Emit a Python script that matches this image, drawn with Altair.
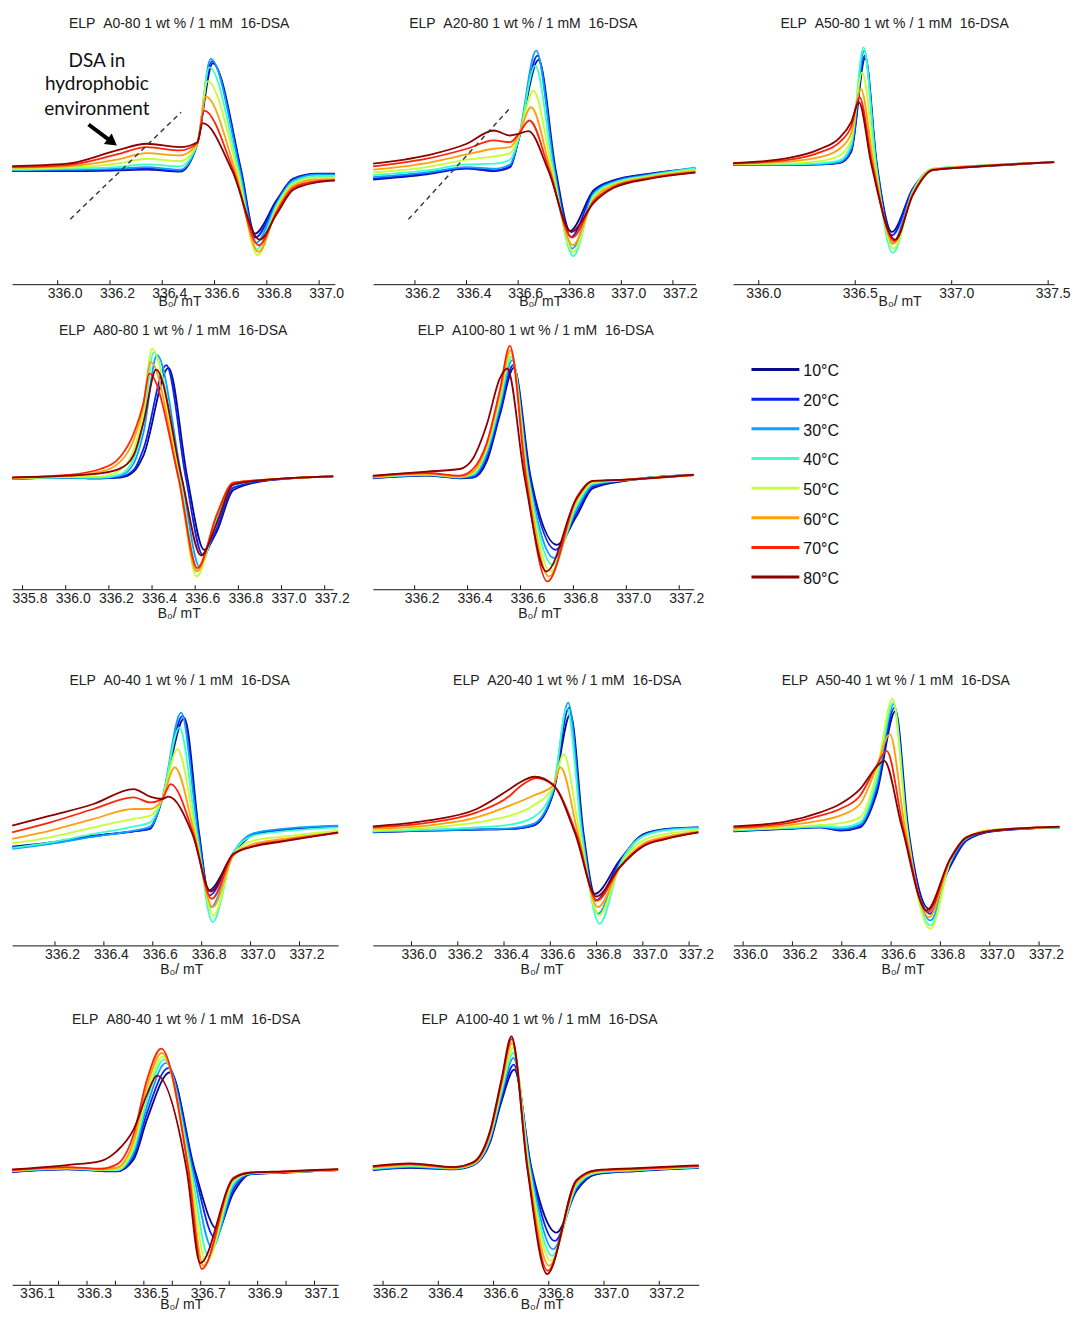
import altair as alt
import pandas as pd

FONT = "Liberation Sans"

TEMPS = [10, 20, 30, 40, 50, 60, 70, 80]
TEMP_LABELS = ["10°C", "20°C", "30°C", "40°C", "50°C", "60°C", "70°C", "80°C"]
COLORS = ["#0a0a8c", "#0a22f5", "#0aa0ff", "#3cffc8", "#c3ff32", "#ffa00a", "#ff230a", "#8c0000"]

# ---- EPR spectra: (B0 in mT, signal in a.u.) key points ----
A0_80 = {
    10: [(335.826,113.3),(336.036,113.3),(336.226,114.0),(336.341,114.7),(336.468,112.7),(336.534,140.7),(336.593,221.3),(336.702,114.0),(336.754,50.7),(336.837,84.0),(336.901,105.7),(336.990,110.7),(337.060,110.7)],
    20: [(335.826,113.7),(336.036,114.0),(336.226,114.7),(336.341,115.7),(336.468,113.3),(336.534,140.7),(336.589,223.3),(336.700,114.0),(336.756,46.7),(336.837,82.3),(336.901,105.0),(336.990,110.3),(337.060,110.3)],
    30: [(335.826,114.0),(336.036,114.7),(336.226,115.7),(336.341,117.3),(336.468,114.7),(336.534,140.7),(336.585,225.7),(336.697,114.0),(336.758,41.3),(336.837,80.7),(336.901,104.0),(336.990,109.7),(337.060,109.7)],
    40: [(335.826,114.7),(336.036,115.7),(336.226,117.3),(336.341,120.0),(336.468,118.0),(336.534,140.7),(336.580,217.3),(336.692,114.0),(336.761,34.7),(336.837,79.0),(336.901,102.3),(336.990,108.3),(337.060,108.0)],
    50: [(335.826,115.7),(336.036,116.7),(336.226,120.7),(336.341,125.7),(336.468,123.3),(336.534,140.7),(336.573,203.3),(336.687,114.0),(336.765,29.0),(336.837,76.7),(336.901,100.7),(336.990,106.7),(337.060,106.7)],
    60: [(335.826,116.7),(336.036,118.0),(336.226,124.7),(336.341,131.3),(336.468,129.0),(336.534,140.7),(336.566,188.0),(336.679,114.0),(336.768,32.3),(336.837,74.0),(336.901,98.7),(336.990,105.0),(337.060,105.3)],
    70: [(335.826,117.3),(336.036,119.3),(336.226,130.0),(336.341,137.3),(336.468,134.0),(336.534,141.3),(336.560,174.0),(336.672,114.0),(336.770,39.0),(336.837,72.0),(336.901,96.7),(336.990,103.3),(337.060,104.3)],
    80: [(335.826,118.3),(336.036,120.7),(336.226,134.0),(336.341,140.7),(336.468,137.3),(336.534,142.3),(336.555,161.3),(336.667,114.0),(336.773,44.7),(336.837,70.0),(336.901,94.7),(336.990,102.0),(337.060,103.7)],
}

A20_80 = {
    10: [(336.038,104.7),(336.246,110.0),(336.401,115.7),(336.505,113.3),(336.569,117.3),(336.601,144.0),(336.679,224.7),(336.746,114.0),(336.801,53.3),(336.892,94.0),(336.969,104.0),(337.111,110.7),(337.287,115.7)],
    20: [(336.038,105.7),(336.246,110.7),(336.401,116.3),(336.505,114.0),(336.569,118.0),(336.601,144.0),(336.675,229.0),(336.743,114.0),(336.805,47.3),(336.892,92.3),(336.969,103.3),(337.111,110.3),(337.287,115.7)],
    30: [(336.038,107.3),(336.246,112.0),(336.401,117.3),(336.505,115.7),(336.569,120.0),(336.601,144.7),(336.670,234.0),(336.741,114.0),(336.810,35.7),(336.892,90.7),(336.969,102.3),(337.111,109.7),(337.287,116.7)],
    40: [(336.038,109.3),(336.246,114.0),(336.401,120.0),(336.505,120.7),(336.569,124.7),(336.601,145.0),(336.666,219.0),(336.737,114.0),(336.814,28.0),(336.892,89.0),(336.969,101.3),(337.111,109.0),(337.287,116.0)],
    50: [(336.038,112.0),(336.246,117.3),(336.401,124.7),(336.505,128.0),(336.569,131.3),(336.601,147.3),(336.659,194.0),(336.732,114.0),(336.814,32.3),(336.892,86.7),(336.969,100.0),(337.111,108.0),(337.287,114.7)],
    60: [(336.038,114.7),(336.246,121.3),(336.401,130.0),(336.505,135.7),(336.569,137.3),(336.601,149.0),(336.650,177.3),(336.726,114.0),(336.812,39.0),(336.892,84.7),(336.969,98.7),(337.111,107.3),(337.287,113.3)],
    70: [(336.038,118.0),(336.246,125.7),(336.401,135.7),(336.505,144.0),(336.569,142.3),(336.601,150.0),(336.644,164.0),(336.721,114.0),(336.809,46.7),(336.892,83.0),(336.969,97.3),(337.111,106.3),(337.287,112.3)],
    80: [(336.038,120.7),(336.246,129.0),(336.401,140.7),(336.505,154.0),(336.569,149.0),(336.601,150.7),(336.640,153.3),(336.717,114.0),(336.806,52.3),(336.892,81.3),(336.969,96.3),(337.111,105.7),(337.287,111.7)],
}

A50_80 = {
    10: [(335.867,119.3),(336.143,119.3),(336.316,120.0),(336.419,121.3),(336.479,132.3),(336.552,226.7),(336.612,120.7),(336.690,52.3),(336.798,95.7),(336.902,114.7),(337.091,117.3),(337.531,122.3)],
    20: [(335.867,119.3),(336.143,119.3),(336.316,120.0),(336.419,121.7),(336.479,134.0),(336.550,229.0),(336.610,120.7),(336.691,49.0),(336.798,94.7),(336.902,115.0),(337.091,117.7),(337.531,122.3)],
    30: [(335.867,119.7),(336.143,119.7),(336.316,120.3),(336.419,122.3),(336.479,135.7),(336.547,234.0),(336.609,120.7),(336.693,40.7),(336.798,93.7),(336.902,115.3),(337.091,118.0),(337.531,122.3)],
    40: [(335.867,120.0),(336.143,120.0),(336.316,121.0),(336.419,124.0),(336.479,140.0),(336.543,237.3),(336.607,120.7),(336.695,31.3),(336.798,92.7),(336.902,115.7),(337.091,118.3),(337.531,122.3)],
    50: [(335.867,120.3),(336.143,121.0),(336.316,123.3),(336.419,129.0),(336.479,144.0),(336.536,212.3),(336.602,120.7),(336.698,35.7),(336.798,91.7),(336.902,115.3),(337.091,118.0),(337.531,122.3)],
    60: [(335.867,120.7),(336.143,122.7),(336.316,127.3),(336.419,135.7),(336.479,150.7),(336.529,195.7),(336.595,120.7),(336.700,40.7),(336.798,90.7),(336.902,115.0),(337.091,117.7),(337.531,122.3)],
    70: [(335.867,121.0),(336.143,124.3),(336.316,132.0),(336.419,142.3),(336.479,158.0),(336.522,187.3),(336.588,120.7),(336.703,43.3),(336.798,89.7),(336.902,114.7),(337.091,117.7),(337.531,122.3)],
    80: [(335.867,121.3),(336.143,126.0),(336.316,135.3),(336.419,146.7),(336.479,162.3),(336.519,182.3),(336.583,120.7),(336.707,44.7),(336.798,89.0),(336.902,114.3),(337.091,117.3),(337.531,122.3)],
}

A80_80 = {
    10: [(335.752,108.7),(336.006,110.0),(336.161,109.3),(336.253,110.0),(336.315,116.0),(336.361,132.7),(336.476,220.0),(336.564,109.3),(336.641,37.7),(336.700,56.0),(336.777,97.7),(336.931,107.0),(337.239,111.3)],
    20: [(335.752,108.7),(336.006,110.0),(336.161,109.3),(336.253,110.7),(336.315,117.7),(336.361,139.3),(336.466,222.7),(336.557,109.3),(336.635,32.7),(336.700,59.3),(336.777,100.0),(336.931,107.3),(337.239,111.3)],
    30: [(335.752,109.0),(336.006,110.0),(336.161,109.7),(336.253,112.0),(336.315,124.3),(336.361,156.0),(336.423,232.7),(336.538,109.3),(336.620,21.0),(336.700,67.7),(336.777,102.7),(336.931,107.7),(337.239,111.3)],
    40: [(335.752,109.0),(336.006,110.3),(336.161,110.0),(336.253,113.3),(336.315,129.3),(336.361,166.0),(336.407,235.3),(336.530,109.3),(336.612,16.7),(336.700,71.0),(336.777,104.0),(336.931,108.0),(337.239,111.3)],
    50: [(335.752,109.3),(336.006,110.7),(336.161,111.3),(336.253,117.7),(336.315,137.7),(336.361,177.7),(336.399,239.3),(336.526,109.3),(336.607,11.0),(336.700,72.7),(336.777,104.7),(336.931,108.0),(337.239,111.3)],
    60: [(335.752,109.7),(336.006,111.7),(336.161,116.0),(336.253,126.0),(336.315,147.7),(336.361,182.7),(336.392,226.0),(336.523,109.3),(336.607,16.0),(336.700,73.3),(336.777,105.0),(336.931,108.0),(337.239,111.3)],
    70: [(335.752,110.0),(336.006,112.7),(336.161,118.7),(336.253,131.0),(336.315,154.3),(336.361,186.0),(336.387,214.3),(336.523,109.3),(336.610,19.3),(336.700,72.7),(336.777,105.0),(336.931,108.0),(337.239,111.3)],
    80: [(335.752,110.3),(336.006,112.0),(336.161,114.3),(336.253,119.3),(336.315,132.7),(336.361,166.0),(336.419,218.3),(336.538,109.3),(336.627,32.0),(336.700,64.3),(336.777,103.3),(336.931,107.7),(337.239,111.3)],
}

A100_80 = {
    10: [(336.042,112.7),(336.245,115.3),(336.371,112.7),(336.421,113.3),(336.472,129.3),(336.522,176.0),(336.575,223.3),(336.638,114.3),(336.738,46.0),(336.811,74.3),(336.874,102.7),(337.000,110.3),(337.255,116.0)],
    20: [(336.042,113.0),(336.245,115.7),(336.371,113.0),(336.421,114.0),(336.472,132.7),(336.522,179.3),(336.572,226.0),(336.635,114.3),(336.733,41.0),(336.811,77.7),(336.874,104.3),(337.000,110.7),(337.255,116.0)],
    30: [(336.042,113.3),(336.245,116.0),(336.371,113.3),(336.421,115.3),(336.472,136.7),(336.522,184.3),(336.569,231.0),(336.631,114.3),(336.727,32.7),(336.811,81.0),(336.874,106.0),(337.000,111.0),(337.255,116.0)],
    40: [(336.042,113.7),(336.245,116.3),(336.371,113.7),(336.421,116.7),(336.472,140.0),(336.522,188.7),(336.566,234.3),(336.629,114.3),(336.721,26.0),(336.811,84.3),(336.874,107.3),(337.000,111.0),(337.255,116.0)],
    50: [(336.042,114.0),(336.245,116.7),(336.371,114.0),(336.421,117.7),(336.472,142.7),(336.522,192.7),(336.564,237.7),(336.626,114.3),(336.714,19.3),(336.811,87.7),(336.874,108.3),(337.000,111.3),(337.255,116.0)],
    60: [(336.042,114.3),(336.245,117.3),(336.371,114.3),(336.421,119.3),(336.472,145.3),(336.522,196.7),(336.562,241.0),(336.624,114.3),(336.708,14.3),(336.811,90.0),(336.874,109.3),(337.000,111.3),(337.255,116.0)],
    70: [(336.042,114.7),(336.245,118.0),(336.371,115.3),(336.421,122.0),(336.472,147.7),(336.522,201.0),(336.560,245.3),(336.620,114.3),(336.702,9.3),(336.811,92.7),(336.874,110.0),(337.000,111.3),(337.255,116.0)],
    80: [(336.042,115.3),(336.245,119.3),(336.371,122.0),(336.421,132.7),(336.472,166.0),(336.522,212.7),(336.550,222.7),(336.615,114.3),(336.698,19.3),(336.811,92.0),(336.874,110.0),(337.000,111.3),(337.255,116.3)],
}

A0_40 = {
    10: [(336.025,99.0),(336.181,103.3),(336.358,110.0),(336.521,114.3),(336.589,116.7),(336.637,145.0),(336.729,227.7),(336.790,111.7),(336.827,55.0),(336.929,91.7),(337.011,111.0),(337.133,115.7),(337.358,119.3)],
    20: [(336.025,97.7),(336.181,102.3),(336.358,109.3),(336.521,114.3),(336.589,117.3),(336.637,145.0),(336.722,230.0),(336.788,111.7),(336.831,50.0),(336.929,92.3),(337.011,111.7),(337.133,116.0),(337.358,119.7)],
    30: [(336.025,96.7),(336.181,101.7),(336.358,109.0),(336.521,115.0),(336.589,119.0),(336.637,145.7),(336.716,233.3),(336.785,111.7),(336.838,38.3),(336.929,93.0),(337.011,112.3),(337.133,116.7),(337.358,120.0)],
    40: [(336.025,97.7),(336.181,103.3),(336.358,111.7),(336.521,119.0),(336.589,123.3),(336.637,145.7),(336.709,218.3),(336.780,111.7),(336.845,23.3),(336.929,92.3),(337.011,110.0),(337.133,114.3),(337.358,118.3)],
    50: [(336.025,102.3),(336.181,108.3),(336.358,118.3),(336.521,126.7),(336.589,130.0),(336.637,145.7),(336.701,196.7),(336.776,111.7),(336.848,30.0),(336.929,91.0),(337.011,105.0),(337.133,109.0),(337.358,115.0)],
    60: [(336.025,106.7),(336.181,115.0),(336.358,126.7),(336.521,136.7),(336.589,136.7),(336.637,145.7),(336.690,178.3),(336.771,111.7),(336.845,38.3),(336.929,90.0),(337.011,101.7),(337.133,106.7),(337.358,113.3)],
    70: [(336.025,113.3),(336.181,123.3),(336.358,136.7),(336.521,148.3),(336.589,143.3),(336.637,146.3),(336.673,161.7),(336.766,111.7),(336.841,46.7),(336.929,90.7),(337.011,99.7),(337.133,105.0),(337.358,112.7)],
    80: [(336.025,120.0),(336.181,130.0),(336.358,141.7),(336.521,156.7),(336.589,149.0),(336.637,146.7),(336.664,149.0),(336.762,111.7),(336.837,54.0),(336.929,91.7),(337.011,99.0),(337.133,104.3),(337.358,113.3)],
}

A20_40 = {
    10: [(335.833,113.3),(336.066,115.0),(336.282,116.0),(336.425,116.7),(336.526,120.0),(336.612,151.7),(336.687,231.7),(336.744,111.7),(336.792,51.7),(336.899,85.0),(336.999,111.0),(337.101,116.7),(337.240,118.3)],
    20: [(335.833,113.7),(336.066,115.0),(336.282,116.0),(336.425,116.7),(336.526,120.0),(336.612,153.3),(336.681,238.3),(336.741,111.7),(336.796,45.0),(336.899,83.3),(336.999,110.3),(337.101,116.3),(337.240,118.0)],
    30: [(335.833,114.0),(336.066,115.3),(336.282,116.3),(336.425,117.3),(336.526,121.7),(336.612,155.0),(336.677,243.3),(336.739,111.7),(336.806,31.7),(336.899,81.7),(336.999,109.7),(337.101,116.0),(337.240,117.7)],
    40: [(335.833,114.3),(336.066,116.0),(336.282,118.3),(336.425,121.0),(336.526,128.3),(336.612,156.7),(336.672,238.3),(336.736,111.7),(336.813,21.7),(336.899,80.0),(336.999,109.0),(337.101,115.3),(337.240,117.3)],
    50: [(335.833,115.0),(336.066,117.7),(336.282,123.3),(336.425,130.0),(336.526,140.0),(336.612,159.0),(336.658,191.7),(336.727,111.7),(336.810,30.0),(336.899,78.3),(336.999,105.0),(337.101,111.7),(337.240,115.0)],
    60: [(335.833,116.7),(336.066,120.0),(336.282,128.3),(336.425,140.0),(336.526,150.0),(336.612,160.0),(336.644,178.3),(336.720,111.7),(336.806,38.3),(336.899,77.7),(336.999,101.7),(337.101,109.0),(337.240,114.0)],
    70: [(335.833,118.3),(336.066,122.7),(336.282,133.3),(336.425,150.0),(336.468,159.0),(336.540,167.7),(336.612,160.7),(336.713,111.7),(336.802,45.0),(336.899,77.7),(336.999,99.7),(337.101,107.3),(337.240,113.3)],
    80: [(335.833,119.3),(336.066,125.0),(336.282,136.7),(336.425,156.7),(336.468,163.3),(336.533,169.0),(336.612,161.0),(336.708,111.7),(336.799,49.0),(336.899,78.3),(336.999,99.0),(337.101,106.7),(337.240,113.3)],
}

A50_40 = {
    10: [(335.961,114.3),(336.177,116.7),(336.312,118.3),(336.393,115.0),(336.474,118.3),(336.541,151.7),(336.618,235.0),(336.669,118.3),(336.754,36.7),(336.838,78.3),(336.906,105.0),(337.013,114.3),(337.283,118.3)],
    20: [(335.961,114.7),(336.177,117.0),(336.312,118.3),(336.393,115.7),(336.474,119.3),(336.541,155.0),(336.614,238.3),(336.667,118.3),(336.757,31.7),(336.838,80.0),(336.906,106.0),(337.013,114.7),(337.283,118.3)],
    30: [(335.961,115.0),(336.177,117.3),(336.312,118.7),(336.393,116.7),(336.474,121.0),(336.541,160.0),(336.611,241.7),(336.665,118.3),(336.760,25.0),(336.838,81.7),(336.906,106.7),(337.013,115.0),(337.283,118.3)],
    40: [(335.961,115.3),(336.177,117.7),(336.312,119.0),(336.393,118.3),(336.474,123.3),(336.541,165.0),(336.609,243.3),(336.664,118.3),(336.761,20.0),(336.838,83.3),(336.906,107.7),(337.013,115.7),(337.283,118.3)],
    50: [(335.961,116.0),(336.177,118.3),(336.312,120.7),(336.393,122.3),(336.474,128.3),(336.541,171.7),(336.606,247.3),(336.663,118.3),(336.761,16.7),(336.838,84.0),(336.906,108.3),(337.013,116.0),(337.283,118.3)],
    60: [(335.961,117.0),(336.177,120.3),(336.312,125.0),(336.393,130.0),(336.474,141.7),(336.541,178.3),(336.595,211.7),(336.656,118.3),(336.754,28.3),(336.838,85.0),(336.906,108.3),(337.013,115.7),(337.283,118.7)],
    70: [(335.961,118.3),(336.177,122.3),(336.312,130.0),(336.393,136.7),(336.474,150.0),(336.541,180.0),(336.582,195.0),(336.649,118.3),(336.749,33.3),(336.838,85.7),(336.906,108.3),(337.013,115.0),(337.283,118.7)],
    80: [(335.961,119.3),(336.177,124.3),(336.312,133.3),(336.393,141.7),(336.474,156.7),(336.541,179.0),(336.572,185.0),(336.644,118.3),(336.744,35.0),(336.838,86.0),(336.906,108.3),(337.013,115.0),(337.283,119.0)],
}

A80_40 = {
    10: [(336.037,113.0),(336.230,115.7),(336.347,114.0),(336.405,113.7),(336.464,125.7),(336.511,165.7),(336.592,213.0),(336.680,114.0),(336.758,55.7),(336.815,92.3),(336.873,110.7),(336.990,112.3),(337.183,115.0)],
    20: [(336.037,113.3),(336.230,116.0),(336.347,114.3),(336.405,114.0),(336.464,129.0),(336.511,172.3),(336.587,217.3),(336.677,114.0),(336.750,47.3),(336.815,95.7),(336.873,111.0),(336.990,112.7),(337.183,115.0)],
    30: [(336.037,113.7),(336.230,116.3),(336.347,114.7),(336.405,114.7),(336.464,132.3),(336.511,179.0),(336.578,222.3),(336.672,114.0),(336.739,37.3),(336.815,99.0),(336.873,111.3),(336.990,112.7),(337.183,115.0)],
    40: [(336.037,114.0),(336.230,116.7),(336.347,115.0),(336.405,115.0),(336.464,135.7),(336.511,185.7),(336.571,225.7),(336.667,114.0),(336.727,29.0),(336.815,101.7),(336.873,111.7),(336.990,113.0),(337.183,115.0)],
    50: [(336.037,114.3),(336.230,117.0),(336.347,115.3),(336.405,115.7),(336.464,139.0),(336.511,192.3),(336.567,229.0),(336.663,114.0),(336.718,22.3),(336.815,104.0),(336.873,112.0),(336.990,113.0),(337.183,115.0)],
    60: [(336.037,114.7),(336.230,117.3),(336.347,115.7),(336.405,117.3),(336.464,144.0),(336.511,199.0),(336.563,232.3),(336.659,114.0),(336.709,19.0),(336.815,105.7),(336.873,112.3),(336.990,113.0),(337.183,115.3)],
    70: [(336.037,115.0),(336.230,118.0),(336.347,116.3),(336.405,120.7),(336.464,150.7),(336.511,205.7),(336.561,236.7),(336.657,114.0),(336.704,15.7),(336.815,107.3),(336.873,112.7),(336.990,113.3),(337.183,115.7)],
    80: [(336.037,115.7),(336.230,120.0),(336.347,124.0),(336.405,134.0),(336.464,155.7),(336.511,190.7),(336.546,209.7),(336.651,114.0),(336.698,21.7),(336.815,106.3),(336.873,112.3),(336.990,113.7),(337.183,116.0)],
}

A100_40 = {
    10: [(336.163,115.0),(336.298,117.3),(336.454,115.7),(336.527,120.0),(336.587,142.3),(336.629,184.0),(336.675,215.7),(336.737,117.3),(336.828,52.3),(336.900,94.0),(336.972,110.7),(337.117,114.0),(337.343,117.3)],
    20: [(336.163,115.3),(336.298,117.7),(336.454,116.0),(336.527,120.3),(336.587,144.0),(336.629,187.3),(336.673,220.7),(336.735,117.3),(336.822,44.0),(336.900,95.7),(336.972,111.3),(337.117,114.3),(337.343,117.7)],
    30: [(336.163,115.7),(336.298,118.3),(336.454,116.3),(336.527,120.7),(336.587,145.7),(336.629,190.7),(336.672,227.3),(336.733,117.3),(336.816,35.7),(336.900,97.3),(336.972,112.0),(337.117,114.7),(337.343,117.7)],
    40: [(336.163,116.3),(336.298,119.0),(336.454,116.7),(336.527,121.0),(336.587,147.3),(336.629,194.0),(336.671,232.3),(336.730,117.3),(336.812,29.0),(336.900,99.0),(336.972,112.3),(337.117,115.0),(337.343,118.0)],
    50: [(336.163,117.0),(336.298,119.7),(336.454,117.0),(336.527,121.3),(336.587,149.0),(336.629,197.3),(336.670,237.3),(336.728,117.3),(336.807,24.0),(336.900,100.7),(336.972,113.0),(337.117,115.3),(337.343,118.3)],
    60: [(336.163,117.7),(336.298,120.3),(336.454,117.3),(336.527,121.7),(336.587,150.7),(336.629,200.7),(336.667,242.3),(336.725,117.3),(336.801,19.0),(336.900,102.3),(336.972,113.7),(337.117,115.7),(337.343,118.7)],
    70: [(336.163,118.3),(336.298,121.0),(336.454,117.7),(336.527,122.3),(336.587,152.3),(336.629,204.0),(336.666,246.3),(336.723,117.3),(336.796,14.0),(336.900,104.0),(336.972,114.3),(337.117,116.3),(337.343,119.0)],
    80: [(336.163,119.0),(336.298,121.7),(336.454,118.0),(336.527,123.0),(336.587,154.0),(336.629,206.3),(336.665,249.0),(336.722,117.3),(336.794,10.7),(336.900,105.0),(336.972,115.0),(337.117,117.0),(337.343,119.7)],
}

# axis ticks / labels (mT)
TICKS_P1 = [336.0, 336.2, 336.4, 336.6, 336.8, 337.0]
TICKS_P2 = [336.2, 336.4, 336.6, 336.8, 337.0, 337.2]
TICKS_P3 = [336.0, 336.5, 337.0, 337.5]
TICKS_P4 = [335.8, 336.0, 336.2, 336.4, 336.6, 336.8, 337.0, 337.2]
TICKS_P8 = [336.0, 336.2, 336.4, 336.6, 336.8, 337.0, 337.2]
TICKS_P10 = [336.1, 336.2, 336.3, 336.4, 336.5, 336.6, 336.7, 336.8, 336.9, 337.0, 337.1]
LABELS_P10 = [336.1, 336.3, 336.5, 336.7, 336.9, 337.1]

# annotations
DASH_P1 = [(336.048, 65.0), (336.472, 172.3)]
DASH_P2 = [(336.175, 65.0), (336.566, 175.7)]
NOTE_TEXT = ["DSA in", "hydrophobic", "environment"]
NOTE_POS = [(336.150, 224.0), (336.150, 200.7), (336.150, 175.7)]
ARROW_SHAFT = [(336.118, 160.0), (336.198, 144.3)]
ARROW_HEAD = (336.209, 142.3)

COLOR = alt.Color("T:O", scale=alt.Scale(domain=TEMPS, range=COLORS), legend=None)
NB = "\u00a0"


def curves_df(curves):
    return pd.DataFrame([{"T": t, "B": b, "S": s} for t, pts in curves.items() for b, s in pts])


def panel(title, curves, xdom, ydom, width, height, tick_vals, label_vals, title_dx, tpad=1,
          loff=7, extras=None):
    x_axis = alt.Axis(values=label_vals, format=".1f", title="B₀/ mT", ticks=False, grid=False,
                      domainColor="#111", domainWidth=1, labelFont=FONT, labelFontSize=14,
                      labelColor="#222", labelOffset=loff, labelPadding=2, labelFlush=False,
                      labelOverlap=False, labelBound=False, titleFont=FONT, titleFontSize=14,
                      titleFontWeight="normal", titleColor="#222", titlePadding=tpad,
                      titleX=width / 2 + 6)
    X = alt.X("B:Q", scale=alt.Scale(domain=xdom, nice=False, zero=False), axis=x_axis)
    Y = alt.Y("S:Q", scale=alt.Scale(domain=ydom, nice=False, zero=False), axis=None)
    lines = alt.Chart(curves_df(curves)).mark_line(interpolate="monotone", strokeWidth=1.8).encode(
        x=X, y=Y, color=COLOR)
    ticks = alt.Chart(pd.DataFrame({"B": tick_vals})).mark_rule(color="#111", strokeWidth=1).encode(
        x=X, y=alt.value(height), y2=alt.value(height - 4))
    layers = [lines, ticks]
    for ex in (extras or []):
        layers.extend(ex(X, Y))
    return alt.layer(*layers).properties(
        width=width, height=height,
        title=alt.TitleParams(title, dx=title_dx, fontSize=14, font=FONT, fontWeight="normal",
                              color="#222", offset=4, anchor="middle"),
    )


def dashed(points):
    def make(X, Y):
        df = pd.DataFrame([{"B": b, "S": s} for b, s in points])
        return [alt.Chart(df).mark_line(color="#333", strokeWidth=1.4, strokeDash=[5, 4]).encode(x=X, y=Y)]
    return make


def note(X, Y):
    df = pd.DataFrame([{"B": b, "S": s, "txt": t} for (b, s), t in zip(NOTE_POS, NOTE_TEXT)])
    return [alt.Chart(df).mark_text(font="Lato", fontSize=19, color="#111", align="center",
                                    baseline="middle").encode(x=X, y=Y, text="txt:N")]


def arrow(X, Y):
    shaft = alt.Chart(pd.DataFrame([{"B": b, "S": s} for b, s in ARROW_SHAFT])).mark_line(
        color="black", strokeWidth=4).encode(x=X, y=Y)
    head = alt.Chart(pd.DataFrame([{"B": ARROW_HEAD[0], "S": ARROW_HEAD[1]}])).mark_point(
        shape="triangle-up", filled=True, color="black", size=170, angle=127, opacity=1).encode(x=X, y=Y)
    return [shaft, head]


def title(name):
    return "ELP" + NB + NB + name + " 1 wt % / 1 mM" + NB + NB + "16-DSA"


p1 = panel(title("A0-80"), A0_80, [335.826, 337.060], [0, 250], 323.3, 250, TICKS_P1, TICKS_P1, 5.7,
           tpad=-6, extras=[dashed(DASH_P1), note, arrow])
p2 = panel(title("A20-80"), A20_80, [336.038, 337.287], [0, 250], 322.9, 250, TICKS_P2, TICKS_P2, -11,
           tpad=-6, extras=[dashed(DASH_P2)])
p3 = panel(title("A50-80"), A50_80, [335.867, 337.531], [0, 250], 321.7, 250, TICKS_P3, TICKS_P3, 1,
           tpad=-6, loff=4.5)

p4 = panel(title("A80-80"), A80_80, [335.752, 337.239], [-1.8, 246.2], 321.6, 248, TICKS_P4, TICKS_P4, 0.5)
p5 = panel(title("A100-80"), A100_80, [336.042, 337.255], [1.5, 249.5], 321.6, 248, TICKS_P2, TICKS_P2, 2.5)

leg_df = pd.DataFrame({"T": TEMPS, "label": TEMP_LABELS})
leg_y = alt.Y("T:Q", scale=alt.Scale(domain=[0.64, 84.1], reverse=True, nice=False, zero=False), axis=None)
legend = alt.layer(
    alt.Chart(leg_df).mark_rule(strokeWidth=3).encode(x=alt.value(18), x2=alt.value(66), y=leg_y, color=COLOR),
    alt.Chart(leg_df).mark_text(align="left", baseline="middle", dy=2, fontSize=16, font=FONT,
                                color="#111").encode(x=alt.value(70), y=leg_y, text="label:N"),
).properties(width=130, height=248)

p7 = panel(title("A0-40"), A0_40, [336.025, 337.358], [0, 254], 326.6, 254, TICKS_P2, TICKS_P2, 4.5)
p8 = panel(title("A20-40"), A20_40, [335.833, 337.240], [0, 254], 326.2, 254, TICKS_P8, TICKS_P8, 31.7)
p9 = panel(title("A50-40"), A50_40, [335.961, 337.283], [0, 254], 326.7, 254, TICKS_P8, TICKS_P8, -0.7)

p10 = panel(title("A80-40"), A80_40, [336.037, 337.183], [0, 254], 326.6, 254, TICKS_P10, LABELS_P10, 11,
            tpad=-3)
p11 = panel(title("A100-40"), A100_40, [336.163, 337.343], [0, 254], 326.6, 254, TICKS_P2, TICKS_P2, 3.7,
            tpad=-3)

row1 = alt.hconcat(p1, p2, p3, spacing=37.7, bounds="flush")
row2 = alt.hconcat(p4, p5, legend, spacing=39.4, bounds="flush")
row3 = alt.hconcat(p7, p8, p9, spacing=34.4, bounds="flush")
row4 = alt.hconcat(p10, p11, spacing=34.4, bounds="flush")

chart = alt.vconcat(
    alt.vconcat(row1, row2, spacing=15.7),
    alt.vconcat(row3, row4, spacing=37.1),
    spacing=53.6,
).properties(
    padding={"left": 0.2, "top": 7.4, "right": 0, "bottom": 0},
    background="white",
).configure_view(stroke=None)

chart.save("out.html", embed_options={"renderer": "svg", "actions": False})
